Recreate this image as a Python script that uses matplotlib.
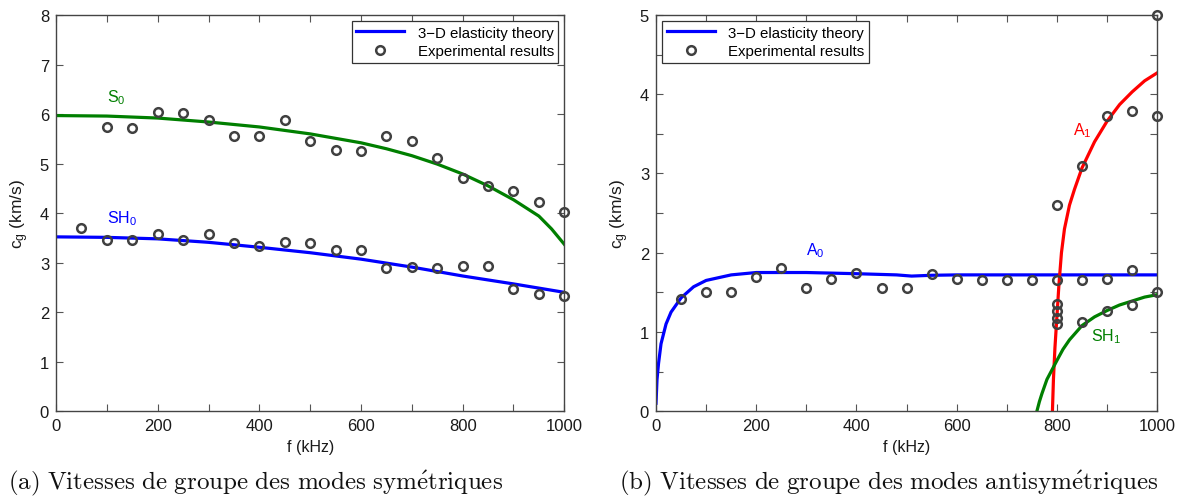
import matplotlib
matplotlib.use("Agg")
import matplotlib.pyplot as plt
from matplotlib.ticker import MultipleLocator

plt.rcParams['font.family'] = ['Liberation Sans', 'DejaVu Sans']
plt.rcParams['mathtext.fontset'] = 'custom'
plt.rcParams['mathtext.rm'] = 'Liberation Sans'
plt.rcParams['mathtext.it'] = 'Liberation Sans'

# ---- symmetric modes: theory curves (kHz, km/s) ----
f_s0 = [0, 100, 200, 300, 400, 500, 600, 650, 700, 750, 800, 850, 900, 950, 975, 1000]
cg_s0 = [5.97, 5.96, 5.92, 5.84, 5.74, 5.60, 5.42, 5.30, 5.16, 4.99, 4.79, 4.55, 4.27,
         3.94, 3.68, 3.37]
f_sh0 = [0, 100, 200, 300, 400, 500, 600, 700, 800, 900, 1000]
cg_sh0 = [3.52, 3.51, 3.48, 3.41, 3.31, 3.20, 3.07, 2.91, 2.73, 2.57, 2.40]

# ---- symmetric modes: measurements ----
f_exp_s = [100, 150, 200, 250, 300, 350, 400, 450, 500, 550, 600, 650, 700, 750,
           800, 850, 900, 950, 1000,
           50, 100, 150, 200, 250, 300, 350, 400, 450, 500, 550, 600, 650, 700,
           750, 800, 850, 900, 950, 1000]
cg_exp_s = [5.74, 5.71, 6.05, 6.02, 5.88, 5.55, 5.55, 5.88, 5.45, 5.28, 5.25, 5.55,
            5.45, 5.12, 4.71, 4.54, 4.44, 4.23, 4.03,
            3.70, 3.45, 3.45, 3.57, 3.45, 3.57, 3.39, 3.33, 3.41, 3.40, 3.25, 3.25,
            2.89, 2.92, 2.90, 2.93, 2.93, 2.46, 2.37, 2.32]

# ---- antisymmetric modes: theory curves ----
f_a0 = [0, 2, 5, 10, 20, 30, 50, 75, 100, 150, 200, 300, 400, 480, 510, 550, 600, 800, 1000]
cg_a0 = [0.10, 0.40, 0.60, 0.85, 1.10, 1.25, 1.43, 1.57, 1.65, 1.72, 1.75, 1.75, 1.735,
         1.72, 1.705, 1.715, 1.72, 1.72, 1.72]
f_a1 = [791, 793, 796, 800, 804, 809, 815, 825, 835, 850, 875, 900, 925, 950, 975, 1000]
cg_a1 = [0.0, 0.4, 0.8, 1.2, 1.6, 2.0, 2.3, 2.6, 2.8, 3.07, 3.4, 3.66, 3.87, 4.03, 4.17, 4.27]
f_sh1 = [760, 765, 770, 780, 790, 800, 812, 825, 850, 875, 900, 925, 950, 975, 1000]
cg_sh1 = [0.0, 0.12, 0.22, 0.40, 0.52, 0.64, 0.78, 0.90, 1.08, 1.19, 1.27, 1.34, 1.39, 1.44, 1.47]

# ---- antisymmetric modes: measurements ----
f_exp_a = [50, 100, 150, 200, 250, 300, 350, 400, 450, 500, 550, 600, 650, 700, 750,
           800, 800, 800, 800, 800, 800, 850, 850, 850, 900, 900, 900,
           950, 950, 950, 1000, 1000, 1000]
cg_exp_a = [1.41, 1.51, 1.50, 1.69, 1.81, 1.56, 1.67, 1.74, 1.56, 1.56, 1.73, 1.67,
            1.66, 1.65, 1.65,
            1.65, 2.60, 1.35, 1.26, 1.18, 1.10, 1.65, 3.10, 1.12, 1.67, 3.72, 1.26,
            3.79, 1.78, 1.34, 5.00, 3.72, 1.51]

BLUE, GREEN, RED = '#0000ff', '#007f00', '#ff0000'
MK = dict(ls='none', marker='o', ms=6.2, mfc='none', mec='#404040', mew=1.8, clip_on=False)


def style_axes(ax, ymax, yminor):
    ax.set_xlim(0, 1000)
    ax.set_ylim(0, ymax)
    ax.xaxis.set_major_locator(MultipleLocator(200))
    ax.xaxis.set_minor_locator(MultipleLocator(100))
    ax.yaxis.set_major_locator(MultipleLocator(1))
    ax.yaxis.set_minor_locator(MultipleLocator(yminor))
    ax.tick_params(which='both', direction='in', top=True, right=True,
                   length=5, width=0.8, color='#555555', labelsize=12,
                   labelcolor='#1a1a1a', pad=5)
    for s in ax.spines.values():
        s.set_color('#444444')
        s.set_linewidth(1.0)
    ax.set_xlabel('f (kHz)', fontsize=11.5, color='#1a1a1a', labelpad=4)
    ax.set_ylabel(r'c$_\mathregular{g}$ (km/s)', fontsize=12.5, color='#1a1a1a', labelpad=6)


def add_legend(ax, handles, loc):
    leg = ax.legend(handles=handles, loc=loc, fontsize=10.8, handlelength=3.2,
                    fancybox=False, framealpha=1, edgecolor='#333333',
                    borderaxespad=0.4, borderpad=0.3, labelspacing=0.3,
                    handletextpad=0.9)
    leg.get_frame().set_linewidth(0.9)


fig = plt.figure(figsize=(11.82, 5.02), dpi=100)
ax1 = fig.add_axes([0.0474, 0.179, 0.430, 0.789])
ax2 = fig.add_axes([0.555, 0.179, 0.424, 0.789])

# (a) symmetric
ax1.plot(f_s0, cg_s0, color=GREEN, lw=2.3)
th, = ax1.plot(f_sh0, cg_sh0, color=BLUE, lw=2.3, label='3\u2212D elasticity theory')
ex, = ax1.plot(f_exp_s, cg_exp_s, label='Experimental results', **MK)
ax1.text(100, 6.25, r'S$_\mathregular{0}$', color=GREEN, fontsize=11.5)
ax1.text(100, 3.82, r'SH$_\mathregular{0}$', color=BLUE, fontsize=11.5)
style_axes(ax1, 8, 1)
add_legend(ax1, [th, ex], 'upper right')

# (b) antisymmetric
th2, = ax2.plot(f_a0, cg_a0, color=BLUE, lw=2.3, label='3\u2212D elasticity theory')
ax2.plot(f_a1, cg_a1, color=RED, lw=2.3)
ax2.plot(f_sh1, cg_sh1, color=GREEN, lw=2.3)
ex2, = ax2.plot(f_exp_a, cg_exp_a, label='Experimental results', **MK)
ax2.text(300, 1.98, r'A$_\mathregular{0}$', color=BLUE, fontsize=11.5)
ax2.text(832, 3.5, r'A$_\mathregular{1}$', color=RED, fontsize=11.5)
ax2.text(868, 0.9, r'SH$_\mathregular{1}$', color=GREEN, fontsize=11.5)
style_axes(ax2, 5, 0.5)
add_legend(ax2, [th2, ex2], 'upper left')

# subfigure captions
cap = dict(fontsize=18, ha='center', va='center', color='#111111', math_fontfamily='cm')
fig.text(0.216, 0.036, r'$\mathrm{(a)\ Vitesses\ de\ groupe\ des\ modes\ sym\acute{e}triques}$', **cap)
fig.text(0.752, 0.036, r'$\mathrm{(b)\ Vitesses\ de\ groupe\ des\ modes\ antisym\acute{e}triques}$', **cap)

fig.savefig('out.png', dpi=100)
